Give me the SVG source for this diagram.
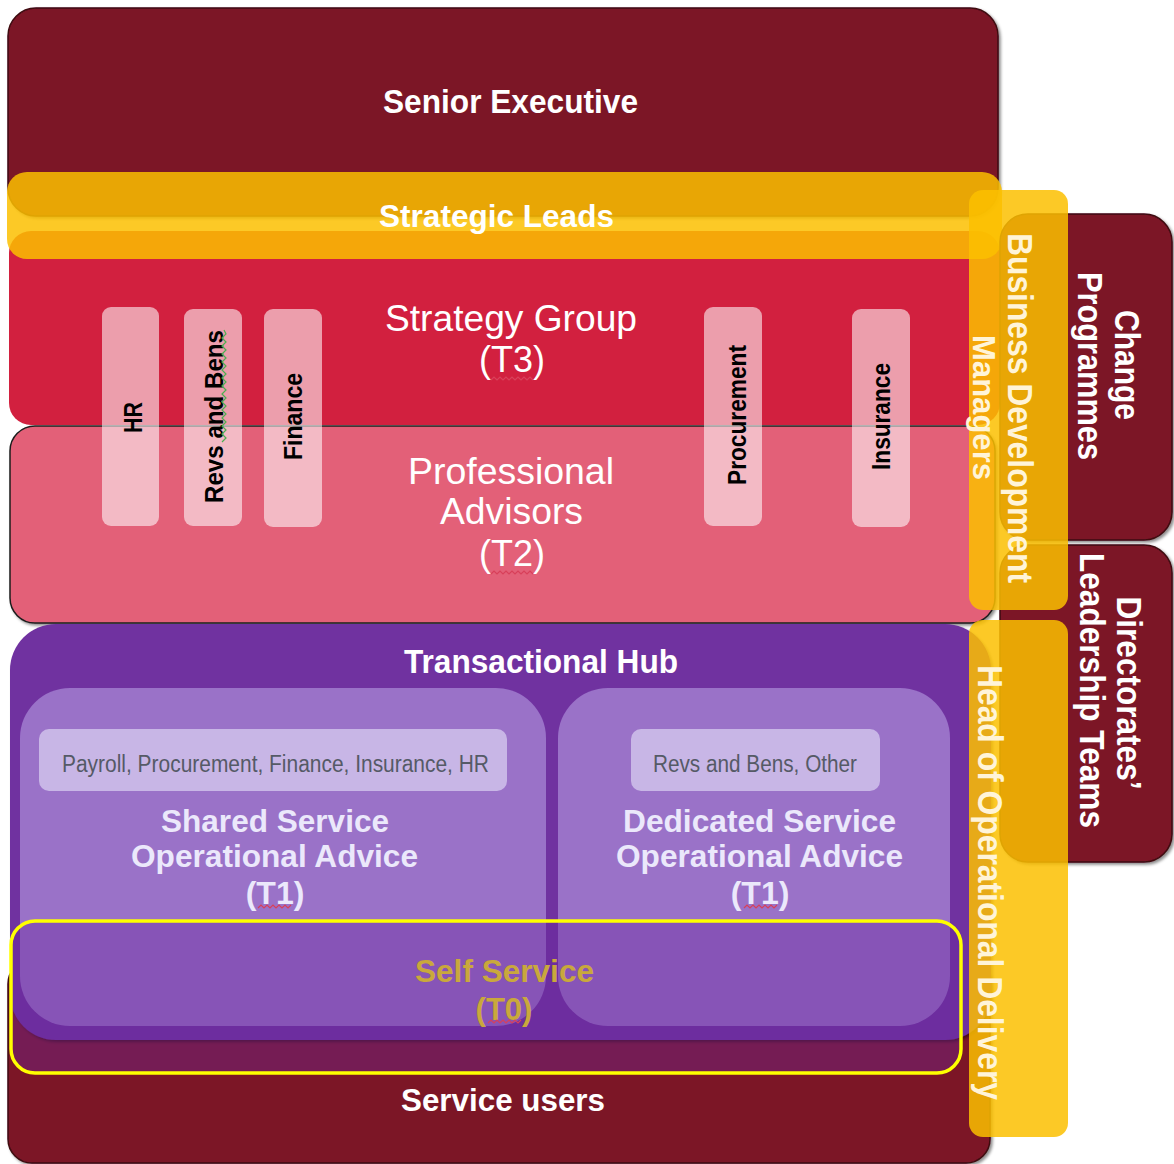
<svg xmlns="http://www.w3.org/2000/svg" width="1174" height="1164" viewBox="0 0 1174 1164">
<defs>
<filter id="sh" x="-5%" y="-5%" width="110%" height="110%"><feDropShadow dx="2" dy="2" stdDeviation="1.5" flood-color="#000" flood-opacity="0.45"/></filter>
</defs>
<style>
text{font-family:"Liberation Sans",Arial,sans-serif;}
.b{font-weight:bold}
.w{fill:#ffffff}
.lav{fill:#ebe8fb}
.cream{fill:#fff4d8}
.maroon{fill:#7b1427;stroke:#3e0911;stroke-width:1.5}
.pillar{fill:#ffffff;fill-opacity:0.57}
.pt{font-weight:bold;font-size:26px;fill:#000}
.yel{fill:#fbc000;fill-opacity:0.85}
.inner{fill:#9a72c8}
.tag{fill:#c8b6e6}
.tagt{font-size:23px;fill:#555a66}
.sq{fill:none;stroke:#d8405a;stroke-width:1.2}
</style>

<g id="service-users">
<rect x="8" y="960" width="982" height="203" rx="24" class="maroon" filter="url(#sh)"/>
</g>

<g id="senior-executive">
<rect x="8" y="8" width="990" height="208" rx="28" class="maroon" filter="url(#sh)"/>
</g>

<g id="strategy-group">
<rect x="9" y="231" width="991" height="194" rx="22" fill="#d2203f"/>
</g>

<g id="professional-advisors">
<rect x="10" y="426" width="985" height="197" rx="25" fill="#e36078" stroke="#1c1c1c" stroke-width="1.5" filter="url(#sh)"/>
</g>

<g id="pillars">
<g id="pillar-hr"><rect x="102" y="307" width="57" height="219" rx="9" class="pillar"/>
<text class="pt" text-anchor="middle" transform="translate(142,417.5) rotate(-90)" textLength="31" lengthAdjust="spacingAndGlyphs">HR</text></g>
<g id="pillar-revs"><rect x="184" y="309" width="58" height="217" rx="9" class="pillar"/>
<text class="pt" text-anchor="middle" transform="translate(223,416.5) rotate(-90)" textLength="173" lengthAdjust="spacingAndGlyphs">Revs  and  Bens</text></g>
<g id="pillar-finance"><rect x="264" y="309" width="58" height="218" rx="9" class="pillar"/>
<text class="pt" text-anchor="middle" transform="translate(302,416.5) rotate(-90)" textLength="87" lengthAdjust="spacingAndGlyphs">Finance</text></g>
<g id="pillar-procurement"><rect x="704" y="307" width="58" height="219" rx="9" class="pillar"/>
<text class="pt" text-anchor="middle" transform="translate(746,415) rotate(-90)" textLength="140" lengthAdjust="spacingAndGlyphs">Procurement</text></g>
<g id="pillar-insurance"><rect x="852" y="309" width="58" height="218" rx="9" class="pillar"/>
<text class="pt" text-anchor="middle" transform="translate(890,416.5) rotate(-90)" textLength="107" lengthAdjust="spacingAndGlyphs">Insurance</text></g>
<polyline points="224,330 226,334 222,338 226,342 222,346 226,350 222,354 226,358 222,362 226,366 222,370 226,374 222,378 226,382 222,386 226,390 222,394 226,398 222,402 226,406 222,410 226,414 222,418 226,422 222,426 226,430 222,434 226,438 222,442" fill="none" stroke="#4caf50" stroke-width="1.2"/>
</g>

<g id="transactional-hub">
<rect x="10" y="624" width="981" height="416" rx="46" fill="#7030a0" filter="url(#sh)"/>
</g>

<g id="shared-service">
<rect x="20" y="688" width="526" height="338" rx="50" class="inner"/>
<rect x="39" y="729" width="468" height="62" rx="10" class="tag"/>
<text class="tagt" x="275.5" y="772" text-anchor="middle" textLength="427" lengthAdjust="spacingAndGlyphs">Payroll, Procurement, Finance, Insurance, HR</text>
</g>

<g id="dedicated-service">
<rect x="558" y="688" width="392" height="338" rx="50" class="inner"/>
<rect x="631" y="729" width="249" height="62" rx="10" class="tag"/>
<text class="tagt" x="755" y="772" text-anchor="middle" textLength="204" lengthAdjust="spacingAndGlyphs">Revs and Bens, Other</text>
</g>

<g id="self-service">
<rect x="11" y="921" width="950" height="152" rx="24" fill="#69279c" fill-opacity="0.39" stroke="#ffff00" stroke-width="3.5"/>
</g>

<g id="strategic-leads">
<rect x="7" y="172" width="995" height="87" rx="20" class="yel"/>
</g>

<g id="change-programmes">
<rect x="1000" y="214" width="172" height="326" rx="28" class="maroon" filter="url(#sh)"/>
<text class="b w" font-size="35" text-anchor="middle" transform="translate(1115,365) rotate(90)" textLength="110" lengthAdjust="spacingAndGlyphs">Change</text>
<text class="b w" font-size="35" text-anchor="middle" transform="translate(1078,366) rotate(90)" textLength="188" lengthAdjust="spacingAndGlyphs">Programmes</text>
</g>

<g id="directorates-leadership-teams">
<rect x="1000" y="545" width="172" height="317" rx="28" class="maroon" filter="url(#sh)"/>
<text class="b w" font-size="35" text-anchor="middle" transform="translate(1117,693) rotate(90)" textLength="193" lengthAdjust="spacingAndGlyphs">Directorates’</text>
<text class="b w" font-size="35" text-anchor="middle" transform="translate(1080,690.5) rotate(90)" textLength="275" lengthAdjust="spacingAndGlyphs">Leadership Teams</text>
</g>

<g id="business-development-managers">
<rect x="969" y="190" width="99" height="420" rx="14" class="yel"/>
<text class="b cream" font-size="35" text-anchor="middle" transform="translate(1008,408) rotate(90)" textLength="350" lengthAdjust="spacingAndGlyphs">Business Development</text>
<text class="b cream" font-size="32" text-anchor="middle" transform="translate(973,407.5) rotate(90)" textLength="145" lengthAdjust="spacingAndGlyphs">Managers</text>
</g>

<g id="head-of-operational-delivery">
<rect x="969" y="620" width="99" height="517" rx="14" class="yel"/>
<text class="b cream" font-size="35" text-anchor="middle" transform="translate(978,882.5) rotate(90)" textLength="435" lengthAdjust="spacingAndGlyphs">Head of Operational Delivery</text>
</g>

<g id="labels">
<text class="b w" font-size="33" x="510.5" y="113" text-anchor="middle" textLength="255" lengthAdjust="spacingAndGlyphs">Senior Executive</text>
<text class="b w" font-size="31" x="496.5" y="227" text-anchor="middle" textLength="235" lengthAdjust="spacingAndGlyphs">Strategic Leads</text>
<text class="w" font-size="36" x="511" y="331" text-anchor="middle" textLength="252" lengthAdjust="spacingAndGlyphs">Strategy Group</text>
<text class="w" font-size="36" x="512" y="372" text-anchor="middle">(T3)</text>
<text class="w" font-size="36" x="511" y="484" text-anchor="middle" textLength="206" lengthAdjust="spacingAndGlyphs">Professional</text>
<text class="w" font-size="36" x="511.5" y="524" text-anchor="middle" textLength="143" lengthAdjust="spacingAndGlyphs">Advisors</text>
<text class="w" font-size="36" x="512" y="566" text-anchor="middle">(T2)</text>
<text class="b w" font-size="33" x="541" y="673" text-anchor="middle" textLength="274" lengthAdjust="spacingAndGlyphs">Transactional Hub</text>
<text class="b lav" font-size="32" x="275" y="832" text-anchor="middle" textLength="228" lengthAdjust="spacingAndGlyphs">Shared Service</text>
<text class="b lav" font-size="32" x="274.5" y="867" text-anchor="middle" textLength="287" lengthAdjust="spacingAndGlyphs">Operational Advice</text>
<text class="b lav" font-size="32" x="275" y="904" text-anchor="middle">(T1)</text>
<text class="b lav" font-size="32" x="759.5" y="832" text-anchor="middle" textLength="273" lengthAdjust="spacingAndGlyphs">Dedicated Service</text>
<text class="b lav" font-size="32" x="759.5" y="867" text-anchor="middle" textLength="287" lengthAdjust="spacingAndGlyphs">Operational Advice</text>
<text class="b lav" font-size="32" x="760" y="904" text-anchor="middle">(T1)</text>
<text class="b" fill="#c9a83c" font-size="31" x="504.5" y="982" text-anchor="middle" textLength="179" lengthAdjust="spacingAndGlyphs">Self Service</text>
<text class="b" fill="#c9a83c" font-size="31" x="504" y="1020" text-anchor="middle">(T0)</text>
<text class="b w" font-size="32" x="503" y="1111" text-anchor="middle" textLength="204" lengthAdjust="spacingAndGlyphs">Service users</text>
<polyline class="sq" points="491,380 494,377 497,380 500,377 503,380 506,377 509,380 512,377 515,380 518,377 521,380 524,377 527,380 530,377 533,380"/>
<polyline class="sq" points="491,574 494,571 497,574 500,571 503,574 506,571 509,574 512,571 515,574 518,571 521,574 524,571 527,574 530,571 533,574"/>
<polyline class="sq" points="258,908 261,905 264,908 267,905 270,908 273,905 276,908 279,905 282,908 285,905 288,908 291,905"/>
<polyline class="sq" points="744,908 747,905 750,908 753,905 756,908 759,905 762,908 765,905 768,908 771,905 774,908 777,905"/>
<polyline class="sq" points="488,1023 491,1020 494,1023 497,1020 500,1023 503,1020 506,1023 509,1020 512,1023 515,1020 518,1023 521,1020"/>
</g>
</svg>
